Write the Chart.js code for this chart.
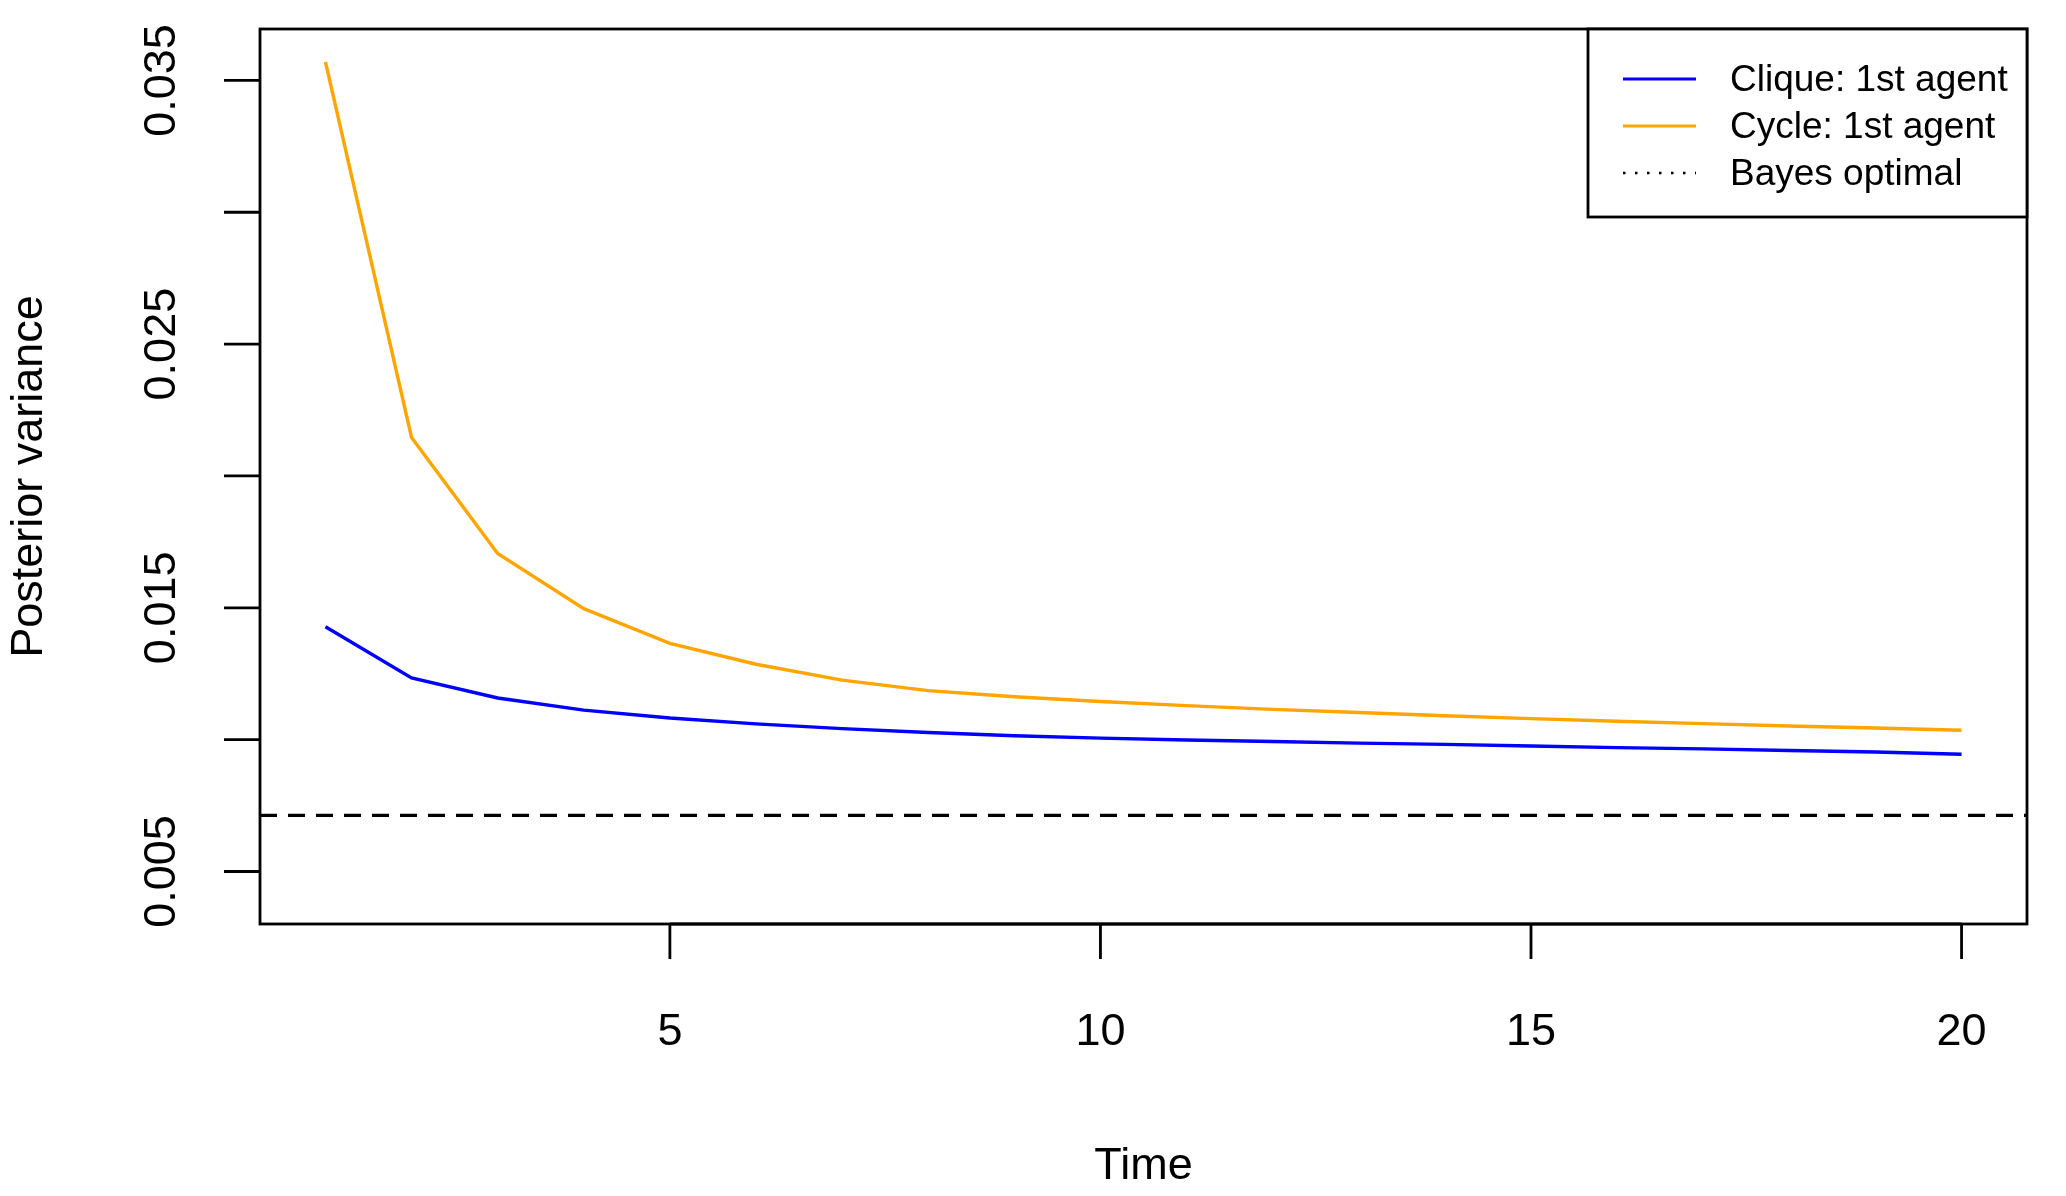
<!DOCTYPE html>
<html>
<head>
<meta charset="utf-8">
<script src="https://cdn.jsdelivr.net/npm/chart.js@4.4.1/dist/chart.umd.min.js"></script>
<style>
  html, body { margin: 0; padding: 0; background: #ffffff; }
  canvas { display: block; }
</style>
</head>
<body>
<canvas id="varianceChart" width="2066" height="1196"></canvas>
<script>
// ---- data ----
const timeSteps = [1, 2, 3, 4, 5, 6, 7, 8, 9, 10, 11, 12, 13, 14, 15, 16, 17, 18, 19, 20];
const cliqueFirstAgent = [0.01428, 0.01234, 0.01158, 0.01112, 0.01082, 0.01060, 0.01042, 0.01027, 0.01015, 0.01006,
                          0.00999, 0.00993, 0.00987, 0.00982, 0.00976, 0.00970, 0.00965, 0.00959, 0.00953, 0.00945];
const cycleFirstAgent = [0.03570, 0.02146, 0.01706, 0.01497, 0.01365, 0.01286, 0.01226, 0.01186, 0.01163, 0.01145,
                         0.01129, 0.01115, 0.01103, 0.01091, 0.01080, 0.01070, 0.01061, 0.01052, 0.01044, 0.01036];
const bayesOptimal = 0.00713;

const xTicks = [5, 10, 15, 20];
const yTicks = [0.005, 0.010, 0.015, 0.020, 0.025, 0.030, 0.035];
const yTickLabels = ['0.005', '', '0.015', '', '0.025', '', '0.035'];
const seriesLabels = ['Clique: 1st agent', 'Cycle: 1st agent', 'Bayes optimal'];
const seriesColors = ['#0000ff', '#ffa500', '#000000'];

const FONT = '"Liberation Sans", Arial, Helvetica, sans-serif';

function toPoints(ys) {
    return ys.map((y, i) => ({ x: timeSteps[i], y: y }));
}

// R-style box, axes, reference line and legend
const baseGraphics = {
    id: 'baseGraphics',
    beforeDatasetsDraw(chart) {
        const { ctx, chartArea, scales } = chart;
        const y = scales.y.getPixelForValue(bayesOptimal);
        ctx.save();
        ctx.strokeStyle = '#000';
        ctx.lineWidth = 3.2;
        ctx.setLineDash([17, 11]);
        ctx.beginPath();
        ctx.moveTo(chartArea.left, y);
        ctx.lineTo(chartArea.right, y);
        ctx.stroke();
        ctx.restore();
    },
    afterDraw(chart) {
        const { ctx, chartArea, scales } = chart;
        const xs = scales.x, ys = scales.y;
        ctx.save();
        ctx.strokeStyle = '#000';
        ctx.fillStyle = '#000';
        ctx.lineWidth = 2.8;

        // plot box
        ctx.strokeRect(chartArea.left, chartArea.top,
                       chartArea.right - chartArea.left, chartArea.bottom - chartArea.top);

        // x axis
        ctx.font = '45px ' + FONT;
        ctx.textAlign = 'center';
        ctx.textBaseline = 'middle';
        ctx.beginPath();
        ctx.moveTo(xs.getPixelForValue(xTicks[0]), chartArea.bottom);
        ctx.lineTo(xs.getPixelForValue(xTicks[xTicks.length - 1]), chartArea.bottom);
        xTicks.forEach(t => {
            const px = xs.getPixelForValue(t);
            ctx.moveTo(px, chartArea.bottom);
            ctx.lineTo(px, chartArea.bottom + 35);
        });
        ctx.stroke();
        xTicks.forEach(t => {
            ctx.fillText(String(t), xs.getPixelForValue(t), chartArea.bottom + 109);
        });

        // y axis
        ctx.beginPath();
        yTicks.forEach(v => {
            const py = ys.getPixelForValue(v);
            ctx.moveTo(chartArea.left, py);
            ctx.lineTo(chartArea.left - 36, py);
        });
        ctx.stroke();
        yTicks.forEach((v, i) => {
            if (!yTickLabels[i]) return;
            ctx.save();
            ctx.translate(chartArea.left - 97, ys.getPixelForValue(v));
            ctx.rotate(-Math.PI / 2);
            ctx.fillText(yTickLabels[i], 0, 0);
            ctx.restore();
        });

        // axis titles
        ctx.fillText('Time', (chartArea.left + chartArea.right) / 2, chartArea.bottom + 243);
        ctx.save();
        ctx.translate(30, (chartArea.top + chartArea.bottom) / 2);
        ctx.rotate(-Math.PI / 2);
        ctx.fillText('Posterior variance', 0, 0);
        ctx.restore();

        // legend
        const lw = 439, lh = 188;
        const lx = chartArea.right - lw, ly = chartArea.top;
        ctx.fillStyle = '#fff';
        ctx.fillRect(lx, ly, lw, lh);
        ctx.strokeRect(lx, ly, lw, lh);
        ctx.fillStyle = '#000';
        ctx.font = '37px ' + FONT;
        ctx.textAlign = 'left';
        seriesLabels.forEach((label, i) => {
            const rowY = ly + 50 + i * 47;
            ctx.save();
            ctx.strokeStyle = seriesColors[i];
            if (i === 2) {
                ctx.lineWidth = 2.5;
                ctx.setLineDash([2.5, 9.5]);
            } else {
                ctx.lineWidth = 3.2;
            }
            ctx.beginPath();
            ctx.moveTo(lx + 35, rowY);
            ctx.lineTo(lx + 108, rowY);
            ctx.stroke();
            ctx.restore();
            ctx.fillText(label, lx + 142, rowY + 2);
        });
        ctx.restore();
    }
};

new Chart(document.getElementById('varianceChart').getContext('2d'), {
    type: 'line',
    data: {
        datasets: [
            {
                label: seriesLabels[0],
                data: toPoints(cliqueFirstAgent),
                borderColor: seriesColors[0],
                borderWidth: 3.4,
                pointRadius: 0,
                tension: 0,
                fill: false
            },
            {
                label: seriesLabels[1],
                data: toPoints(cycleFirstAgent),
                borderColor: seriesColors[1],
                borderWidth: 3.4,
                pointRadius: 0,
                tension: 0,
                fill: false
            }
        ]
    },
    options: {
        responsive: false,
        animation: false,
        devicePixelRatio: 1,
        layout: { padding: { left: 260, top: 29, right: 39, bottom: 272 } },
        plugins: {
            legend: { display: false },
            tooltip: { enabled: false }
        },
        scales: {
            x: { type: 'linear', min: 0.24, max: 20.76, display: false },
            y: { type: 'linear', min: 0.00301, max: 0.03695, display: false }
        }
    },
    plugins: [baseGraphics]
});
</script>
</body>
</html>
